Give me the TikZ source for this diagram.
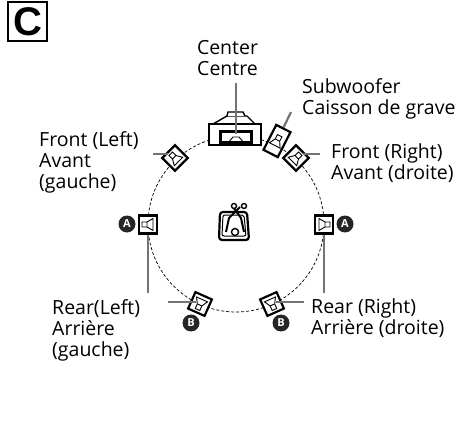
\documentclass[tikz,border=0pt]{standalone}
\usepackage{fontspec}
\setmainfont{Open Sans}
\newfontfamily\boxfont{Liberation Sans}
\tikzset{
  spk/.style={draw, line width=2.2pt, fill=white, minimum size=18pt, inner sep=0pt},
  subwf/.style={draw, line width=2.2pt, fill=white, minimum width=16pt, minimum height=28pt, inner sep=0pt},
  lab/.style={align=left, anchor=north west, inner sep=0pt, font=\fontsize{19.5}{21.3}\selectfont},
  badge/.style={circle, fill=black!85, text=white, minimum size=17pt, inner sep=0pt, font=\fontsize{11}{11}\selectfont\bfseries},
  lead/.style={draw=black!55, line width=2.2pt},
}
\newcommand{\spkcone}[2]{\draw[line width=.9pt, shift={(#1)}, rotate=#2] (-2.5,-6) rectangle (2.5,-1) (-2.5,-1) -- (-6,5) -- (6,5) -- (2.5,-1);}

\begin{document}
\begin{tikzpicture}[x=1pt,y=-1pt]
\useasboundingbox (0,0) rectangle (458,441);

\node[draw, line width=2pt, minimum size=39pt, inner sep=0pt, font=\boxfont\bfseries\fontsize{40}{40}\selectfont] (letter) at (27.5,21.5) {C};

\coordinate (mid) at (236,224);
\draw[line width=.7pt, dash pattern=on 3pt off 2pt] (mid) circle (88);

% center unit
\draw[line width=1.4pt, fill=white] (213,124) -- (227,116) -- (247,116) -- (255,124) -- cycle;
\draw[line width=1.4pt, fill=white] (227,116) -- (228,112) -- (243,112) -- (245,116);
\node[draw, line width=1.8pt, fill=white, minimum width=52pt, minimum height=21pt, inner sep=0pt] (cen) at (235,134.5) {};
\node[draw, line width=2.2pt, minimum width=31pt, minimum height=11pt, inner sep=0pt] (cenin) at (236,137) {};
\coordinate (cenend) at (236,134);
\draw[line width=.9pt] (228,143) -- (233,137) -- (239,137) -- (244,143);

\node[spk, rotate=45] (fl) at (175,158) {};
\node[subwf, rotate=-27] (sw) at (277,141) {};
\node[spk, rotate=-45] (fr) at (296,158) {};
\node[spk, rotate=90] (rl) at (148,224.5) {};
\node[spk, rotate=-90] (rr) at (324,224.5) {};
\node[spk, rotate=156] (bl) at (200,304) {};
\node[spk, rotate=-156] (br) at (272,304) {};

\spkcone{fl}{45}
\spkcone{fr}{-45}
\spkcone{sw}{-27}
\spkcone{rl}{90}
\spkcone{rr}{-90}
\spkcone{bl}{156}
\spkcone{br}{-156}

% listener
\draw[line width=2.2pt, rounded corners=3pt] (220,212) -- (247,212) -- (249,240) -- (219,240) -- cycle;
\draw[line width=1pt, rounded corners=2pt] (223,215) -- (244,215) -- (246,236) -- (222,236) -- cycle;
\draw[line width=2pt] (226,232) -- (229,218) -- (240,207);
\draw[line width=2pt] (244,232) -- (241,218) -- (233,207);
\node[draw, circle, line width=1.4pt, fill=white, minimum size=7pt, inner sep=0pt] (head) at (235,232) {};
\node[draw, circle, line width=1.4pt, fill=white, minimum size=5pt, inner sep=0pt] (handl) at (234,206) {};
\node[draw, circle, line width=1.4pt, fill=white, minimum size=5pt, inner sep=0pt] (handr) at (244,206) {};

\coordinate (lcen) at (236,83);
\coordinate (lsw) at (291,112);
\coordinate (lfr) at (320,154);
\coordinate (lfl) at (153,154);
\coordinate (lrl) at (148,293);
\coordinate (lrr) at (324,293);
\coordinate (lbl) at (168,302);
\coordinate (lbr) at (304,302);

\draw[lead] (lcen) to (cenend);
\draw[lead] (lsw) to (sw);
\draw[lead] (lfr) to (lfr -| fr.north);
\draw[lead] (lfl) to (lfl -| fl.north);
\draw[lead] (lrl) to (rl);
\draw[lead] (lrr) to (rr);
\draw[lead] (lbl) to (lbl -| bl.north);
\draw[lead] (lbr) to (lbr -| br.north);

\node[badge] (al) at (127,224) {A};
\node[badge] (ar) at (345,224) {A};
\node[badge] (bbl) at (191,323) {B};
\node[badge] (bbr) at (281,323) {B};

\node[lab, align=center, anchor=north] (tcen) at (227.5,40) {Center\\Centre};
\node[lab] (tsw) at (302,78) {Subwoofer\\Caisson de grave};
\node[lab] (tfl) at (39,131) {Front (Left)\\Avant\\(gauche)};
\node[lab] (tfr) at (331,143) {Front (Right)\\Avant (droite)};
\node[lab] (trl) at (52,299) {Rear(Left)\\Arrière\\(gauche)};
\node[lab] (trr) at (311,298.5) {Rear (Right)\\Arrière (droite)};
\end{tikzpicture}
\end{document}
